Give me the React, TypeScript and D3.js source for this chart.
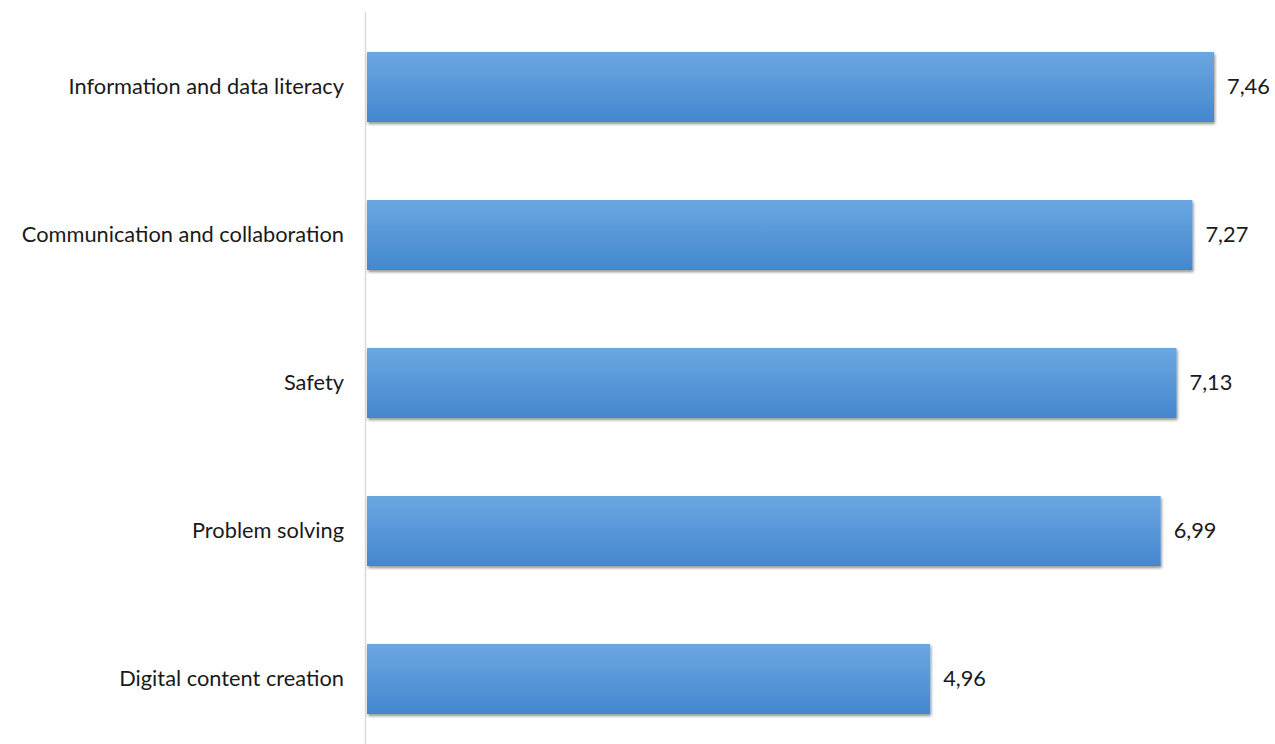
import React from "react";
import * as d3 from "d3";

const categories = [
  "Information and data literacy",
  "Communication and collaboration",
  "Safety",
  "Problem solving",
  "Digital content creation",
];
const values = [7.46, 7.27, 7.13, 6.99, 4.96];

const W = 1275;
const H = 744;

export default function App() {
  const x0 = 367;
  const x = d3.scaleLinear().domain([0, 7.46]).range([x0, 1214]);
  const y = d3
    .scaleBand<string>()
    .domain(categories)
    .range([13, 753])
    .paddingInner(0.527)
    .paddingOuter(0.2635);
  const fmt = (v: number) => d3.format(".2f")(v).replace(".", ",");
  const font = "Lato, 'Open Sans', sans-serif";
  return (
    <svg
      width={W}
      height={H}
      style={{ position: "absolute", left: 0, top: 0, background: "#fff" }}
    >
      <defs>
        <linearGradient id="barGrad" x1="0" y1="0" x2="0" y2="1">
          <stop offset="0%" stopColor="#6ba7e1" />
          <stop offset="100%" stopColor="#4487cf" />
        </linearGradient>
        <filter id="shadow" x="-5%" y="-20%" width="110%" height="150%">
          <feGaussianBlur in="SourceAlpha" stdDeviation="1.5" />
          <feOffset dx="1" dy="2" result="ob" />
          <feComponentTransfer>
            <feFuncA type="linear" slope="0.45" />
          </feComponentTransfer>
          <feMerge>
            <feMergeNode />
            <feMergeNode in="SourceGraphic" />
          </feMerge>
        </filter>
      </defs>
      <line x1={365.5} x2={365.5} y1={12} y2={H} stroke="#d9d9d9" strokeWidth={1.5} />
      {categories.map((c, i) => {
        const yy = y(c)!;
        const bw = y.bandwidth();
        return (
          <g key={c}>
            <rect
              x={x(0)}
              y={yy}
              width={x(values[i]) - x(0)}
              height={bw}
              fill="url(#barGrad)"
              filter="url(#shadow)"
            />
            <text
              x={344}
              y={yy + bw / 2 - 1.5}
              textAnchor="end"
              dominantBaseline="central"
              fontFamily={font}
              fontSize={21.8}
              fill="#1a1a1a"
            >
              {c}
            </text>
            <text
              x={x(values[i]) + 13}
              y={yy + bw / 2 - 1.5}
              dominantBaseline="central"
              fontFamily={font}
              fontSize={21.8}
              fill="#1a1a1a"
            >
              {fmt(values[i])}
            </text>
          </g>
        );
      })}
    </svg>
  );
}
